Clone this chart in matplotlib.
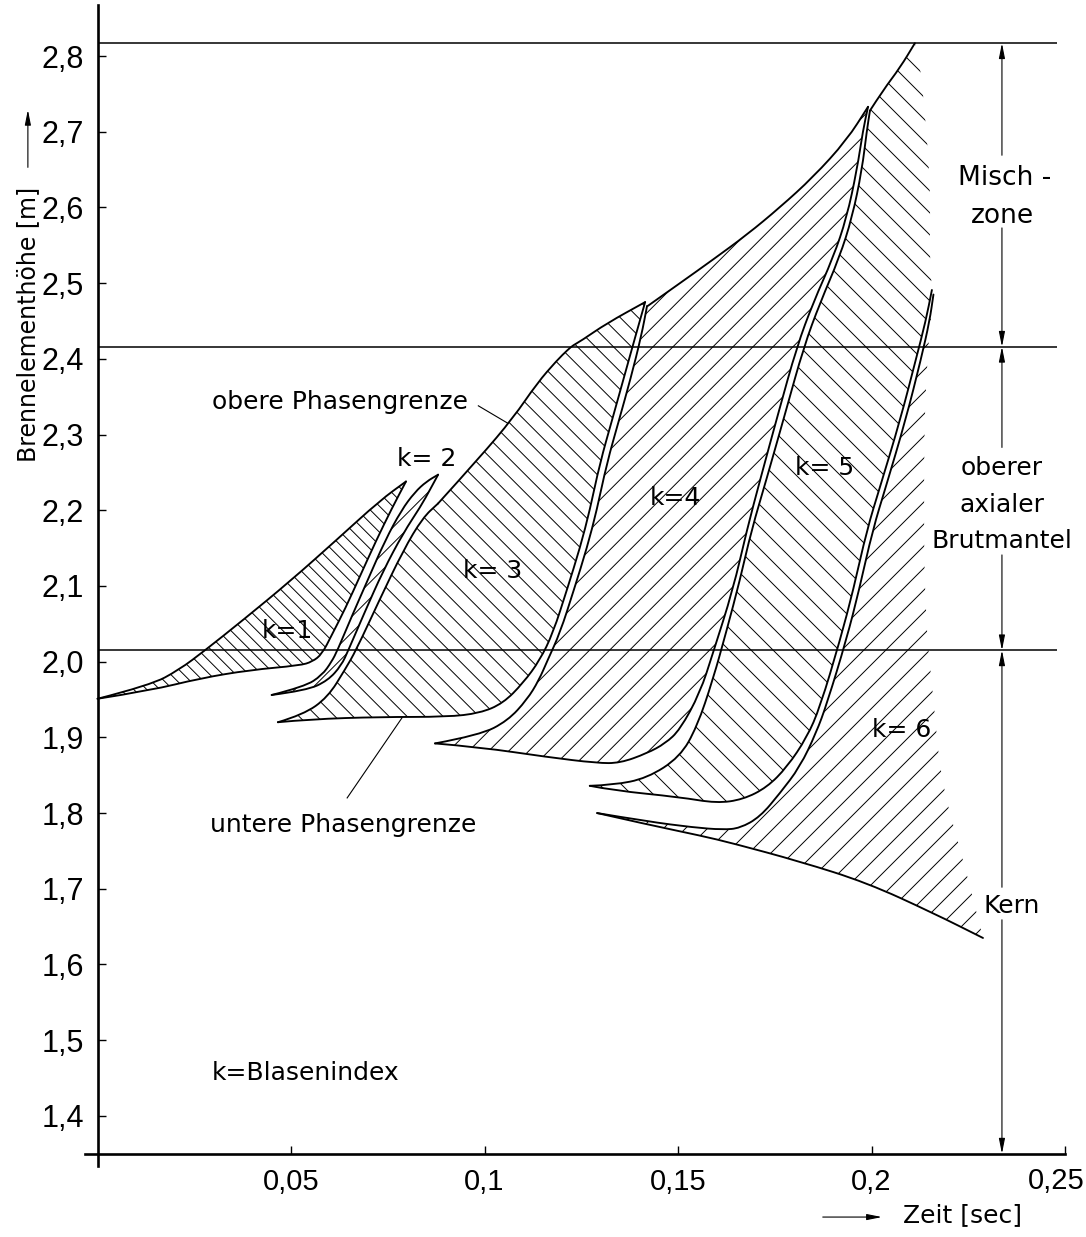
import numpy as np
import matplotlib.pyplot as plt
from matplotlib.path import Path
from matplotlib.patches import PathPatch
from matplotlib.collections import LineCollection

plt.rcParams["font.family"] = ["DejaVu Sans"]

# axis ticks
y_ticks = [1.4, 1.5, 1.6, 1.7, 1.8, 1.9, 2.0, 2.1, 2.2, 2.3, 2.4, 2.5, 2.6, 2.7, 2.8]
y_labels = ["1,4", "1,5", "1,6", "1,7", "1,8", "1,9", "2,0", "2,1", "2,2",
            "2,3", "2,4", "2,5", "2,6", "2,7", "2,8"]
x_ticks = [0.05, 0.10, 0.15, 0.20, 0.25]
x_labels = ["0,05", "0,1", "0,15", "0,2", "0,25"]

# zone borders: Kern / oberer axialer Brutmantel / Mischzone
zone_levels = [2.015, 2.416, 2.817]
axis_floor = 1.35

# bubble boundaries, (Zeit [sec], Hoehe [m])
k1_top = [(0.0, 1.951), (0.0137, 1.969), (0.0210, 1.989), (0.0278, 2.015), (0.0376, 2.055),
          (0.0497, 2.106), (0.0618, 2.161), (0.0730, 2.213), (0.0797, 2.238)]
k1_lower = [(0.0, 1.951), (0.0137, 1.962), (0.0265, 1.978), (0.0394, 1.989), (0.0523, 1.995),
            (0.0555, 2.000), (0.0580, 2.010), (0.0605, 2.035), (0.0640, 2.070), (0.0680, 2.115),
            (0.0720, 2.160), (0.0760, 2.202), (0.0797, 2.238)]

k2_left = [(0.0450, 1.956), (0.0535, 1.967), (0.0580, 1.982), (0.0605, 2.000), (0.0620, 2.015),
           (0.0657, 2.060), (0.0700, 2.110), (0.0743, 2.160), (0.0785, 2.200), (0.0820, 2.224),
           (0.0850, 2.238), (0.0880, 2.247)]
k2_right = [(0.0450, 1.956), (0.0540, 1.962), (0.0595, 1.975), (0.0630, 1.995), (0.0648, 2.015),
            (0.0690, 2.065), (0.0738, 2.120), (0.0790, 2.170), (0.0835, 2.205), (0.0860, 2.228),
            (0.0880, 2.247)]

k3_left = [(0.0466, 1.920), (0.0532, 1.930), (0.0595, 1.953), (0.0640, 1.990), (0.0668, 2.015),
           (0.0728, 2.081), (0.0790, 2.147), (0.0840, 2.190), (0.0880, 2.209)]
k3_top = [(0.0880, 2.209), (0.0988, 2.270), (0.1074, 2.322), (0.1136, 2.368), (0.1187, 2.398),
          (0.1215, 2.412), (0.1229, 2.418), (0.1250, 2.424), (0.1316, 2.447), (0.1415, 2.475)]
k3_lower = [(0.0466, 1.920), (0.0550, 1.924), (0.0730, 1.927), (0.0903, 1.927), (0.0988, 1.932),
            (0.1048, 1.945), (0.1100, 1.972), (0.1143, 2.002), (0.1177, 2.038), (0.1213, 2.095),
            (0.1247, 2.151), (0.1272, 2.200), (0.1298, 2.262), (0.1330, 2.320), (0.1360, 2.375),
            (0.1390, 2.430), (0.1415, 2.475)]

k4_left = [(0.0872, 1.892), (0.0988, 1.903), (0.1060, 1.922), (0.1110, 1.950), (0.1140, 1.975),
           (0.1163, 2.002), (0.1195, 2.038), (0.1231, 2.095), (0.1265, 2.151), (0.1290, 2.200),
           (0.1316, 2.262), (0.1348, 2.320), (0.1378, 2.375), (0.1405, 2.430), (0.1420, 2.470)]
k4_top = [(0.1422, 2.470), (0.1505, 2.500), (0.1590, 2.531), (0.1678, 2.564), (0.1763, 2.600),
          (0.1849, 2.640), (0.1936, 2.689), (0.1991, 2.733)]
k4_lower = [(0.0872, 1.892), (0.0988, 1.887), (0.1162, 1.874), (0.1291, 1.866), (0.1350, 1.866),
            (0.1420, 1.879), (0.1467, 1.892), (0.1505, 1.910), (0.1557, 1.959), (0.1590, 2.011),
            (0.1642, 2.095), (0.1678, 2.174), (0.1712, 2.240), (0.1760, 2.330), (0.1807, 2.416),
            (0.1849, 2.474), (0.1901, 2.534), (0.1936, 2.587), (0.1962, 2.649), (0.1978, 2.702),
            (0.1991, 2.733)]

k5_left = [(0.1272, 1.836), (0.1332, 1.837), (0.1420, 1.846), (0.1505, 1.874), (0.1549, 1.914),
           (0.1590, 1.976), (0.1626, 2.042), (0.1660, 2.108), (0.1690, 2.174), (0.1728, 2.240),
           (0.1778, 2.330), (0.1825, 2.416), (0.1867, 2.474), (0.1917, 2.534), (0.1950, 2.587),
           (0.1975, 2.649), (0.1988, 2.702), (0.1996, 2.728)]
k5_top = [(0.1996, 2.728), (0.2030, 2.755), (0.2074, 2.785), (0.2112, 2.817)]
k5_edge = [(0.2112, 2.817), (0.2125, 2.790), (0.2135, 2.740), (0.2148, 2.660), (0.2152, 2.600),
           (0.2150, 2.540), (0.2156, 2.491)]
k5_lower = [(0.1272, 1.836), (0.1332, 1.830), (0.1505, 1.821), (0.1600, 1.813), (0.1668, 1.818),
            (0.1730, 1.834), (0.1782, 1.861), (0.1833, 1.900), (0.1867, 1.940), (0.1919, 2.029),
            (0.1953, 2.095), (0.1988, 2.174), (0.2022, 2.231), (0.2074, 2.319), (0.2115, 2.400),
            (0.2140, 2.450), (0.2156, 2.491)]

k6_left = [(0.1291, 1.800), (0.1420, 1.789), (0.1540, 1.781), (0.1616, 1.778), (0.1660, 1.780),
           (0.1712, 1.795), (0.1763, 1.826), (0.1815, 1.861), (0.1857, 1.906), (0.1885, 1.945),
           (0.1935, 2.029), (0.1968, 2.095), (0.2003, 2.174), (0.2037, 2.231), (0.2088, 2.319),
           (0.2128, 2.400), (0.2150, 2.450), (0.2160, 2.485)]
k6_edge = [(0.2160, 2.485), (0.2140, 2.400), (0.2134, 2.200), (0.2140, 2.050), (0.2160, 1.950),
           (0.2180, 1.840), (0.2236, 1.740), (0.2288, 1.635)]
k6_lower = [(0.1291, 1.800), (0.1420, 1.785), (0.1560, 1.770), (0.1642, 1.760), (0.1815, 1.736),
            (0.1988, 1.708), (0.2159, 1.668), (0.2288, 1.635)]

fig = plt.figure(figsize=(10.86, 12.37), dpi=100)
ax = fig.add_axes([0.0720, 0.0551, 0.9265, 0.9424])
ax.set_xlim(-0.005, 0.255)
ax.set_ylim(1.33, 2.87)
ax.set_autoscale_on(False)

for s in ("top", "right"):
    ax.spines[s].set_visible(False)
ax.spines["left"].set_position(("data", 0))
ax.spines["bottom"].set_position(("data", axis_floor))
ax.spines["left"].set_bounds(1.3335, 2.867)
ax.spines["bottom"].set_bounds(-0.0032, 0.25)
for s in ("left", "bottom"):
    ax.spines[s].set_linewidth(1.9)

tick_font = ["Liberation Sans", "DejaVu Sans"]
ax.set_yticks(y_ticks, y_labels)
ax.set_xticks(x_ticks, x_labels[:-1] + [""])
ax.tick_params(direction="in", length=6, width=1.0, pad=10)
ax.tick_params(axis="y", labelsize=22)
ax.tick_params(axis="x", labelsize=21)
for lab in ax.get_xticklabels() + ax.get_yticklabels():
    lab.set_fontfamily(tick_font)
# last x label sits at the very edge of the sheet
ax.text(0.2478, 1.3325, x_labels[-1], ha="center", va="top", fontsize=21,
        family=tick_font, clip_on=False)

# pixels per data unit, used to keep the hatching at 45 degrees on screen
p = ax.transData.transform([(0.0, 2.0), (0.1, 2.1)])
px_t = (p[1, 0] - p[0, 0]) / 0.1
px_v = (p[1, 1] - p[0, 1]) / 0.1


def smooth(points):
    pts = np.asarray(points, float)
    verts = [pts[0]]
    codes = [Path.MOVETO]
    for i in range(1, len(pts) - 1):
        verts += [pts[i], (pts[i] + pts[i + 1]) / 2]
        codes += [Path.CURVE3, Path.CURVE3]
    verts.append(pts[-1])
    codes.append(Path.LINETO)
    return verts, codes


def draw_curve(points):
    verts, codes = smooth(points)
    ax.add_patch(PathPatch(Path(verts, codes), facecolor="none", edgecolor="black",
                           lw=1.35, joinstyle="round", capstyle="round"))


def hatch(pieces, sign, spacing_px):
    verts, codes = [], []
    for piece in pieces:
        v, c = smooth(piece)
        if codes:
            c[0] = Path.LINETO
        verts += v
        codes += c
    verts.append(verts[0])
    codes.append(Path.CLOSEPOLY)
    patch = PathPatch(Path(verts, codes), facecolor="none", edgecolor="none")
    ax.add_patch(patch)
    pts = np.vstack([np.asarray(piece) for piece in pieces])
    slope = sign * px_t / px_v
    c = pts[:, 1] - slope * pts[:, 0]
    step = spacing_px / px_v
    t0, t1 = pts[:, 0].min(), pts[:, 0].max()
    segs = [[(t0, ci + slope * t0), (t1, ci + slope * t1)]
            for ci in np.arange(c.min() + step / 2, c.max(), step)]
    lc = LineCollection(segs, colors="black", linewidths=0.7)
    lc.set_clip_path(patch)
    ax.add_collection(lc)


hatch([k1_top, k1_lower[::-1]], -1, 13)
hatch([k2_left, k2_right[::-1]], 1, 16)
hatch([k3_left, k3_top, k3_lower[::-1]], -1, 18)
hatch([k4_left, k4_top, k4_lower[::-1]], 1, 20)
hatch([k5_left, k5_top, k5_edge, k5_lower[::-1]], -1, 22)
hatch([k6_left, k6_edge, k6_lower[::-1]], 1, 22)

for curve in [k1_top, k1_lower, k2_left, k2_right, k3_left, k3_top, k3_lower,
              k4_left, k4_top, k4_lower, k5_left, k5_top, k5_lower, k6_left, k6_lower]:
    draw_curve(curve)

ax.hlines(zone_levels, 0, 0.248, color="black", lw=1.1)

# dimension line on the right
dim_t = 0.2337
arrow = dict(arrowstyle="-|>,head_length=0.9,head_width=0.18", color="black",
             lw=0.8, shrinkA=0, shrinkB=0)
for top, bottom, gap_top, gap_bottom in [(2.817, 2.416, 2.669, 2.573),
                                         (2.416, 2.015, 2.283, 2.141),
                                         (2.015, axis_floor, 1.702, 1.659)]:
    ax.annotate("", xy=(dim_t, top), xytext=(dim_t, gap_top), arrowprops=arrow,
                annotation_clip=False)
    ax.annotate("", xy=(dim_t, bottom), xytext=(dim_t, gap_bottom), arrowprops=arrow,
                annotation_clip=False)

fs = 18
ax.text(0.2345, 2.630, "Misch -", ha="center", fontsize=19)
ax.text(dim_t, 2.579, "zone", ha="center", fontsize=19)
ax.text(dim_t, 2.246, "oberer", ha="center", fontsize=fs)
ax.text(dim_t, 2.198, "axialer", ha="center", fontsize=fs)
ax.text(dim_t, 2.150, "Brutmantel", ha="center", fontsize=fs)
ax.text(0.2361, 1.668, "Kern", ha="center", fontsize=fs)

ax.text(0.0425, 2.031, "k=1", fontsize=fs)
ax.text(0.0774, 2.258, "k= 2", fontsize=fs)
ax.text(0.0944, 2.110, "k= 3", fontsize=fs)
ax.text(0.1428, 2.207, "k=4", fontsize=fs)
ax.text(0.1802, 2.246, "k= 5", fontsize=fs)
ax.text(0.2001, 1.900, "k= 6", fontsize=fs)
ax.text(0.0296, 1.447, "k=Blasenindex", fontsize=fs)

ax.text(0.0296, 2.334, "obere Phasengrenze", fontsize=fs)
ax.plot([0.0984, 0.1060], [2.338, 2.315], color="black", lw=0.8)
ax.text(0.0291, 1.775, "untere Phasengrenze", fontsize=fs)
ax.plot([0.0645, 0.0787], [1.820, 1.926], color="black", lw=0.8)

# axis titles with their arrows
ax.text(-0.0180, 2.446, "Brennelementhöhe [m]", rotation=90, ha="center", va="center",
        fontsize=17, clip_on=False)
ax.annotate("", xy=(-0.0180, 2.729), xytext=(-0.0180, 2.653), arrowprops=arrow,
            annotation_clip=False)
ax.text(0.2081, 1.2689, "Zeit [sec]", ha="left", va="center", fontsize=18, clip_on=False)
ax.annotate("", xy=(0.2027, 1.2663), xytext=(0.1874, 1.2663), arrowprops=arrow,
            annotation_clip=False)

fig.savefig("out.png", dpi=100, facecolor="white")
